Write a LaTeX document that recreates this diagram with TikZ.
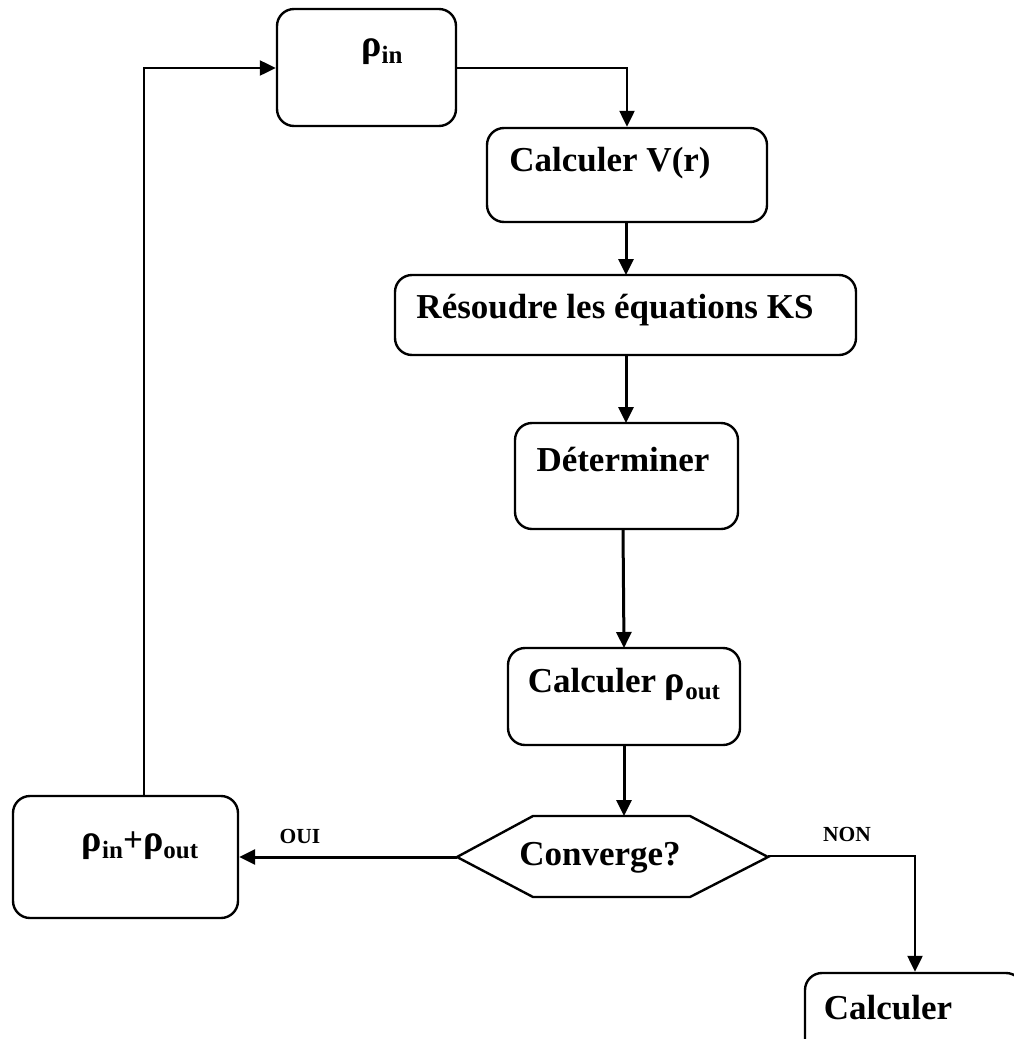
\documentclass[tikz,border=0pt]{standalone}
\usepackage{fontspec}
\setmainfont{Liberation Serif}
\usetikzlibrary{arrows.meta}
\newcommand\rhosub[1]{{\fontsize{38}{38}\selectfont ρ}\raisebox{-0.2em}{\fontsize{25}{25}\selectfont #1}}
\begin{document}
\begin{tikzpicture}[x=1pt,y=-1pt,
  boxstyle/.style={draw=black,line width=2.4pt,rounded corners=17pt,inner sep=0pt},
  txt/.style={font=\fontsize{35}{40}\selectfont\bfseries,inner sep=0pt},
  small/.style={font=\fontsize{21.5}{24}\selectfont\bfseries,inner sep=0pt},
  conn/.style={line width=3pt,-{Triangle[length=16pt,width=15pt]}},
  thinconn/.style={line width=2.3pt,-{Triangle[length=16pt,width=15pt]}}]
\useasboundingbox (0,0) rectangle (1013,1039);
% boxes
\node[boxstyle,minimum width=179pt,minimum height=117pt] (rin) at (366.5,67.5) {};
\node[txt] (trin) at (382,52) {\rhosub{in}};
\node[boxstyle,minimum width=280pt,minimum height=94pt] (cv) at (627,175) {};
\node[txt] (tcv) at (610,163) {Calculer V(r)};
\node[boxstyle,minimum width=461pt,minimum height=80pt] (res) at (625.5,315) {};
\node[txt] (tres) at (615,310) {Résoudre les équations KS};
\node[boxstyle,minimum width=223pt,minimum height=106pt] (det) at (626.5,476) {};
\node[txt] (tdet) at (623,460) {Déterminer};
\node[boxstyle,minimum width=232pt,minimum height=97pt] (cro) at (624,696.5) {};
\node[txt] (tcro) at (624,684) {Calculer \rhosub{out}};
\node[boxstyle,minimum width=225pt,minimum height=122pt] (sum) at (125.5,857) {};
\node[txt] (tsum) at (140,846) {\rhosub{in}+\rhosub{out}};
\node[boxstyle,minimum width=218pt,minimum height=110pt] (bot) at (914,1028) {};
\node[txt] (tbot) at (888,1008) {Calculer};
% hexagon
\draw[line width=2.4pt,line join=miter] (457,857) -- (533,816) -- (690,816) -- (768,857) -- (690,897) -- (533,897) -- cycle;
\coordinate (hexL) at (457,857);
\coordinate (hexR) at (768,856);
\coordinate (hexT) at (624,816);
\node[txt] (thex) at (600,858) {Converge?};
% connectors
\coordinate (c1) at (144,68);
\draw[thinconn] (sum.north -| c1) -- (c1) -- (rin.west |- c1);
\coordinate (c2) at (627,68);
\draw[thinconn] (rin.east |- c2) -- (c2) -- (c2 |- cv.north);
\draw[conn] (626,222) -- (626,275);
\draw[conn] (626,355) -- (626,423);
\draw[conn] (623,529) -- (624,648);
\draw[conn] (cro.south -| hexT) -- (hexT);
\draw[conn] (hexL) -- (sum.east |- hexL);
\coordinate (c3) at (915,856);
\draw[thinconn] (hexR) -- (c3) -- (c3 |- bot.north);
\node[small] (oui) at (300,836) {OUI};
\node[small] (non) at (847,834) {NON};
\end{tikzpicture}
\end{document}
